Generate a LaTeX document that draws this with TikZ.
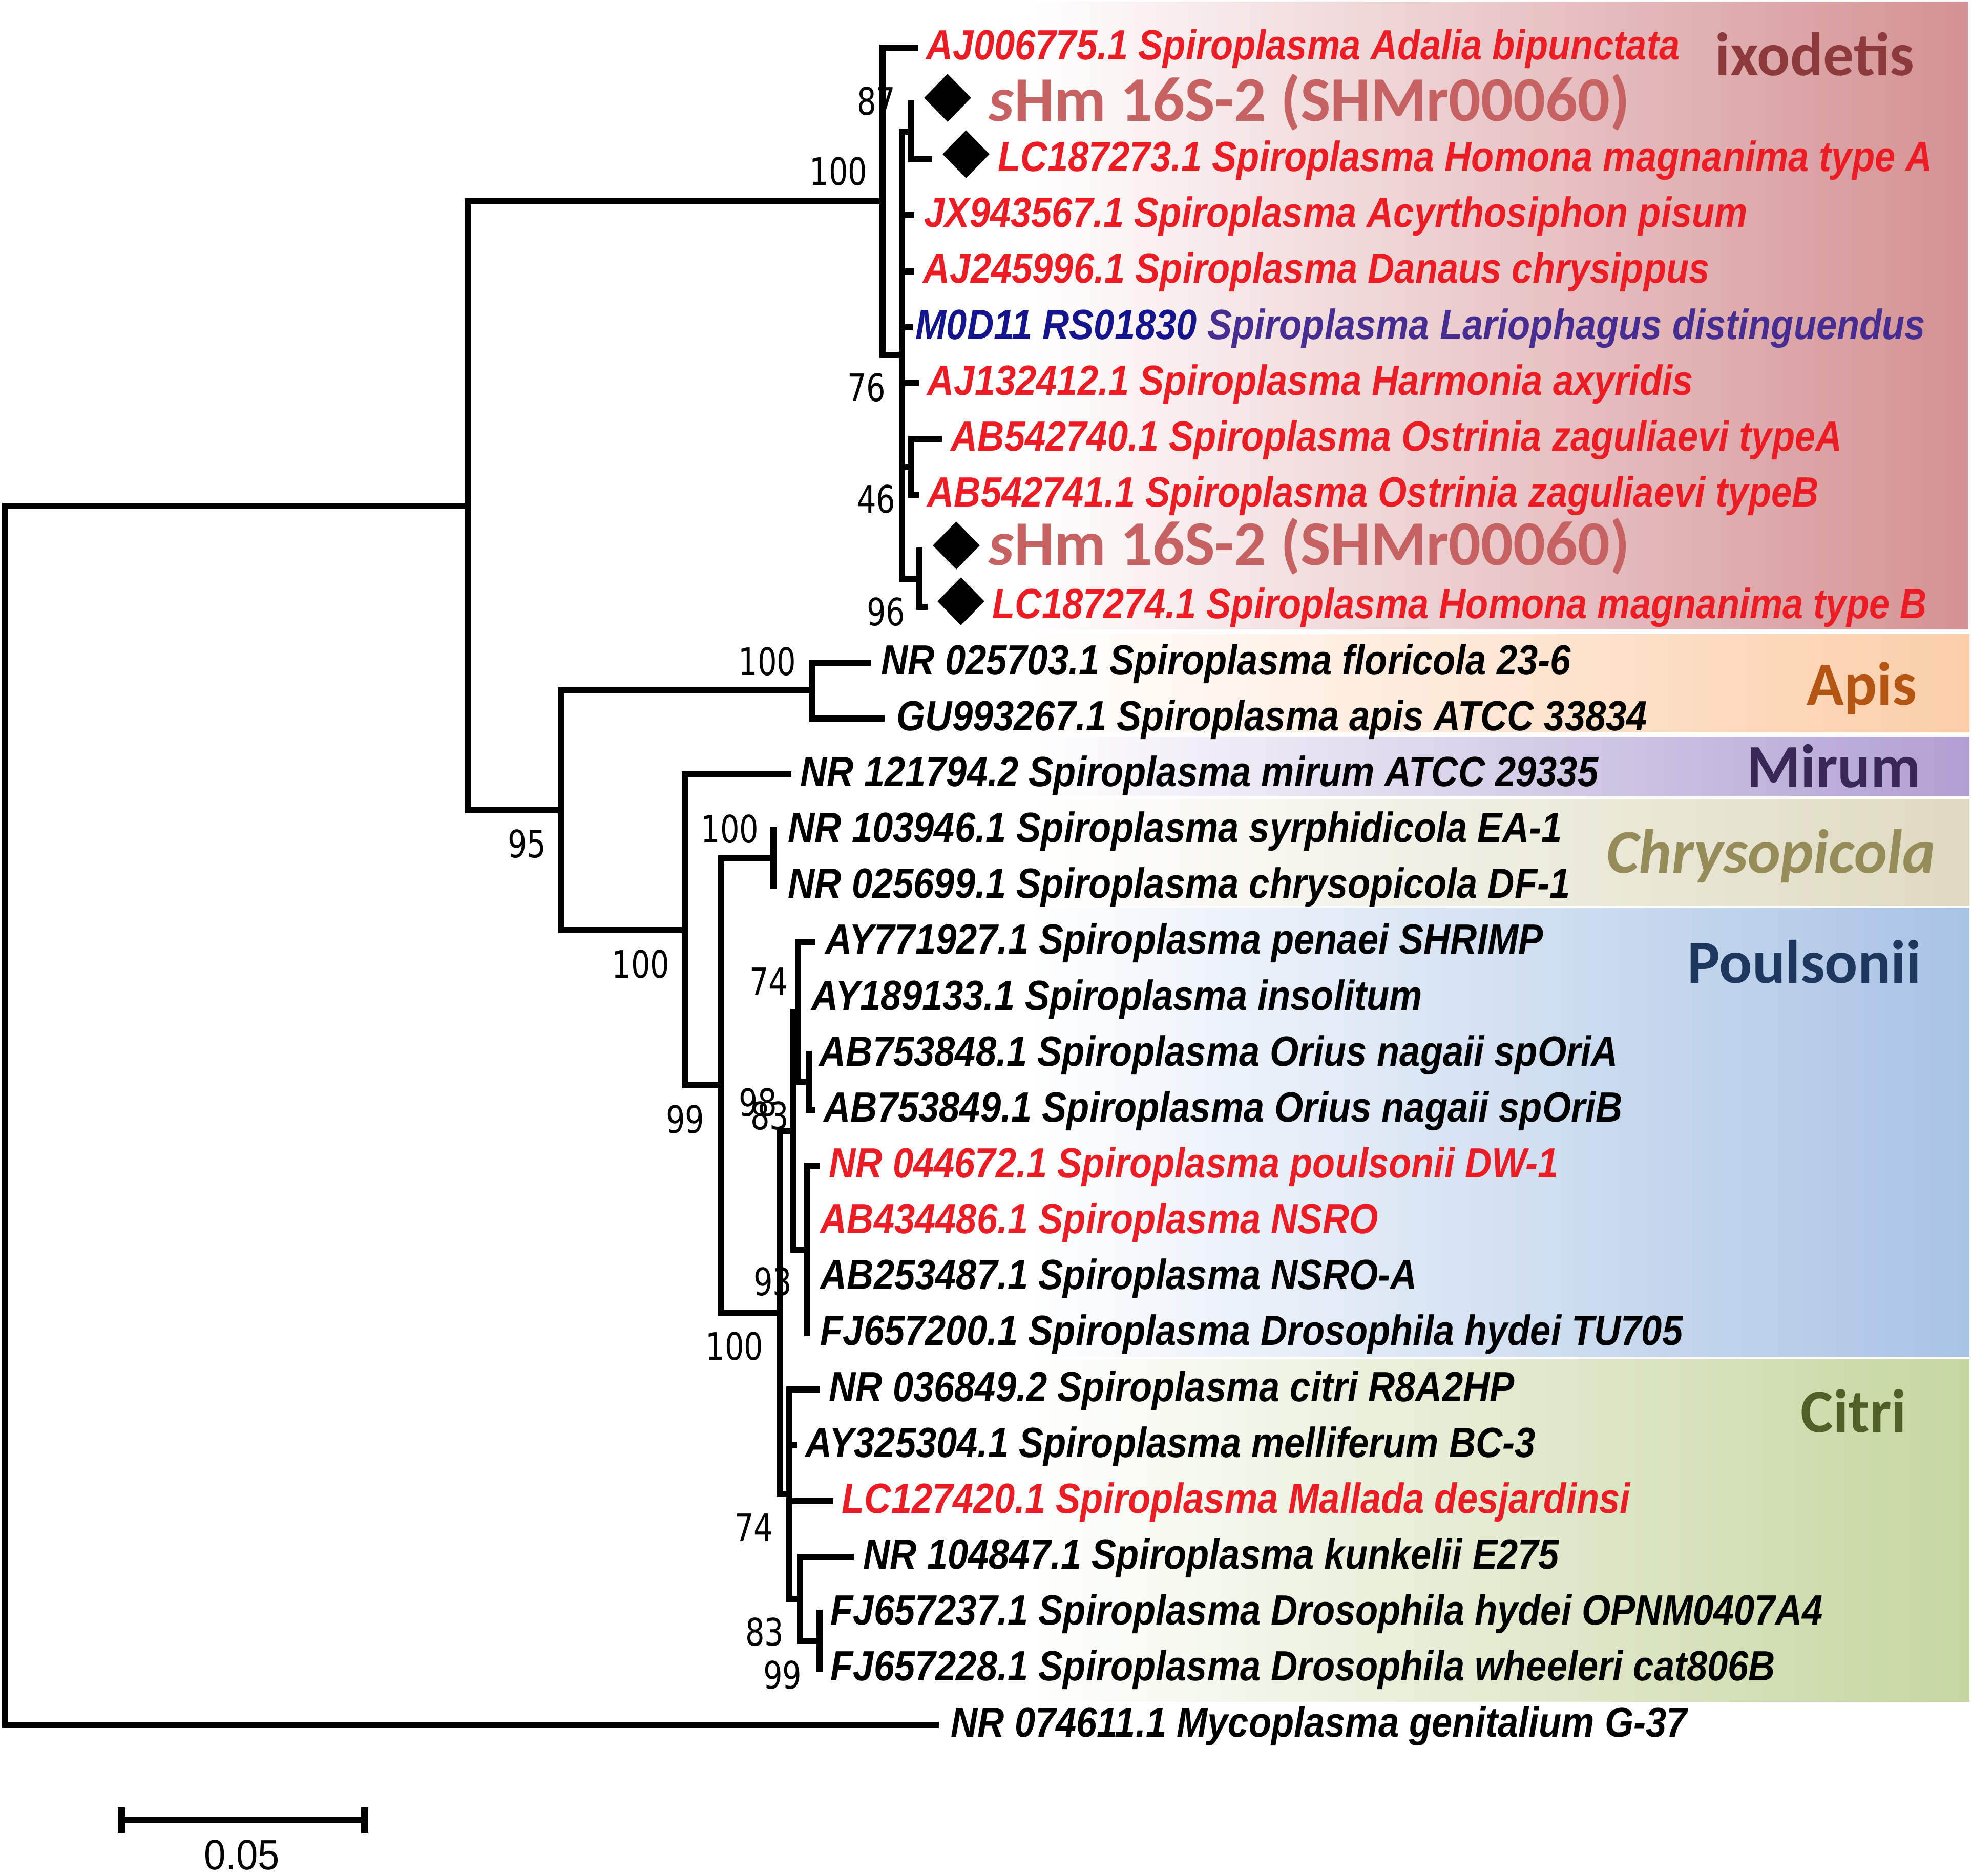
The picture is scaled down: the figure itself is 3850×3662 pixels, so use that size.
\documentclass[tikz,border=0pt]{standalone}
\usepackage{fontspec}
\usetikzlibrary{shapes.geometric}
\newfontfamily\labfont[FakeStretch=0.876]{Liberation Sans}
\newfontfamily\bsfont[FakeStretch=0.80]{DejaVu Sans}
\newfontfamily\cladefont{Carlito}
\newfontfamily\sbfont[FakeStretch=0.92]{Liberation Sans}
\definecolor{lred}{RGB}{236,28,36}
\definecolor{shmc}{RGB}{198,98,98}
\definecolor{mblue}{RGB}{20,20,140}
\definecolor{mpurp}{RGB}{70,45,145}
\definecolor{ixc}{RGB}{212,145,148}
\definecolor{apc}{RGB}{251,206,168}
\definecolor{mic}{RGB}{176,160,210}
\definecolor{chc}{RGB}{222,218,192}
\definecolor{poc}{RGB}{168,195,228}
\definecolor{cic}{RGB}{198,214,160}
\definecolor{ixt}{RGB}{140,58,60}
\definecolor{apt}{RGB}{180,85,20}
\definecolor{mit}{RGB}{55,40,85}
\definecolor{cht}{RGB}{150,140,90}
\definecolor{pot}{RGB}{30,55,95}
\definecolor{cit}{RGB}{80,95,40}
\begin{document}
\begin{tikzpicture}[x=0.01cm,y=-0.01cm,
  br/.style={line width=0.12cm,line cap=rect},
  leaf/.style={anchor=base west,inner sep=0,font=\labfont\bfseries\itshape\fontsize{23.47}{28}\selectfont},
  bs/.style={anchor=east,inner sep=0,font=\bsfont\fontsize{21}{25}\selectfont},
  clade/.style={anchor=base west,inner sep=0,font=\cladefont\bfseries\fontsize{34.1}{40}\selectfont},
  shm/.style={anchor=base west,inner sep=0,text=shmc,font=\cladefont\bfseries\fontsize{35.3}{41}\selectfont},
  diam/.style={shape=diamond,fill=black,inner sep=0,minimum width=0.92cm,minimum height=0.94cm}]
\useasboundingbox (0,0) rectangle (3850,3662);
% ---- clade bands
\shade[left color=white,right color=ixc] (2000,3) rectangle (3842,1228);
\shade[left color=white,right color=apc] (2000,1238) rectangle (3845,1429);
\shade[left color=white,right color=mic] (2000,1439) rectangle (3845,1553);
\shade[left color=white,right color=chc] (2000,1560) rectangle (3845,1768);
\shade[left color=white,right color=poc] (2000,1772) rectangle (3845,2648);
\shade[left color=white,right color=cic] (2000,2654) rectangle (3845,3322);
% ---- internal nodes
\coordinate (R) at (10,2177.5);
\coordinate (Nsp) at (913,987.5);
\coordinate (Nix) at (1723,393.2);
\coordinate (NB) at (1761,693.3);
\coordinate (N87) at (1779,256.7);
\coordinate (Nost) at (1779,911.6);
\coordinate (N96) at (1795,1129.9);
\coordinate (N95) at (1095,1581.9);
\coordinate (Nap) at (1586,1348.2);
\coordinate (Nmir) at (1337,1815.5);
\coordinate (N99) at (1408,2119.1);
\coordinate (Nchr) at (1510,1675.7);
\coordinate (NP) at (1522,2562.5);
\coordinate (N98) at (1549,2207.8);
\coordinate (N74) at (1558,1975.9);
\coordinate (N83) at (1579,2112.3);
\coordinate (N93) at (1576,2439.7);
\coordinate (Ncit) at (1541,2917.3);
\coordinate (Nc83) at (1562,3121.9);
\coordinate (Nc99) at (1600,3203.8);
% ---- tips
\coordinate (t1) at (1786,93);
\coordinate (t2) at (1779,202.15);
\coordinate (t3) at (1814,311.3);
\coordinate (t4) at (1779,420.45);
\coordinate (t5) at (1779,529.6);
\coordinate (t6) at (1776,638.75);
\coordinate (t7) at (1788,747.9);
\coordinate (t8) at (1833,857.05);
\coordinate (t9) at (1788,966.2);
\coordinate (t10) at (1795,1075.35);
\coordinate (t11) at (1805,1184.5);
\coordinate (t12) at (1694,1293.65);
\coordinate (t13) at (1721,1402.8);
\coordinate (t14) at (1539,1511.95);
\coordinate (t15) at (1510,1621.1);
\coordinate (t16) at (1510,1730.25);
\coordinate (t17) at (1586,1839.4);
\coordinate (t18) at (1558,1948.55);
\coordinate (t19) at (1579,2057.7);
\coordinate (t20) at (1586,2166.85);
\coordinate (t21) at (1594,2276);
\coordinate (t22) at (1576,2385.15);
\coordinate (t23) at (1576,2494.3);
\coordinate (t24) at (1576,2603.45);
\coordinate (t25) at (1594,2712.6);
\coordinate (t26) at (1550,2821.75);
\coordinate (t27) at (1621,2930.9);
\coordinate (t28) at (1661,3040.05);
\coordinate (t29) at (1600,3149.2);
\coordinate (t30) at (1600,3258.35);
\coordinate (t31) at (1827,3367.5);
% ---- branches
\draw[br] (R) |- (Nsp); \draw[br] (R) |- (t31);
\draw[br] (Nsp) |- (Nix); \draw[br] (Nsp) |- (N95);
\draw[br] (Nix) |- (t1); \draw[br] (Nix) |- (NB);
\draw[br] (NB) |- (N87); \draw[br] (NB) |- (t4); \draw[br] (NB) |- (t5);
\draw[br] (NB) |- (t6); \draw[br] (NB) |- (t7); \draw[br] (NB) |- (Nost);
\draw[br] (NB) |- (N96);
\draw[br] (N87) -- (t2); \draw[br] (N87) |- (t3);
\draw[br] (Nost) |- (t8); \draw[br] (Nost) |- (t9);
\draw[br] (N96) -- (t10); \draw[br] (N96) |- (t11);
\draw[br] (N95) |- (Nap); \draw[br] (N95) |- (Nmir);
\draw[br] (Nap) |- (t12); \draw[br] (Nap) |- (t13);
\draw[br] (Nmir) |- (t14); \draw[br] (Nmir) |- (N99);
\draw[br] (N99) |- (Nchr); \draw[br] (N99) |- (NP);
\draw[br] (Nchr) -- (t15); \draw[br] (Nchr) -- (t16);
\draw[br] (NP) |- (N98); \draw[br] (NP) |- (Ncit);
\draw[br] (N98) |- (N74); \draw[br] (N98) |- (N93);
\draw[br] (N74) |- (t17); \draw[br] (N74) -- (t18); \draw[br] (N74) |- (N83);
\draw[br] (N83) -- (t19); \draw[br] (N83) |- (t20);
\draw[br] (N93) |- (t21); \draw[br] (N93) -- (t24);
\draw[br] (Ncit) |- (t25); \draw[br] (Ncit) |- (t26); \draw[br] (Ncit) |- (t27);
\draw[br] (Ncit) |- (Nc83);
\draw[br] (Nc83) |- (t28); \draw[br] (Nc83) |- (Nc99);
\draw[br] (Nc99) -- (t29); \draw[br] (Nc99) -- (t30);
% ---- diamonds
\node[diam] (d1) at (1850,191) {};
\node[diam] (d2) at (1886,301) {};
\node[diam] (d3) at (1867,1065) {};
\node[diam] (d4) at (1876,1174) {};
% ---- leaf labels
\node[leaf,text=lred] (l1) at (1808,116) {AJ006775.1 Spiroplasma Adalia bipunctata};
\node[shm] (l2) at (1930,236) {\textit{s}Hm 16S-2 (SHMr00060)};
\node[leaf,text=lred] (l3) at (1948,334) {LC187273.1 Spiroplasma Homona magnanima type A};
\node[leaf,text=lred] (l4) at (1804,443) {JX943567.1 Spiroplasma Acyrthosiphon pisum};
\node[leaf,text=lred] (l5) at (1802,552) {AJ245996.1 Spiroplasma Danaus chrysippus};
\node[leaf] (l6) at (1787,662) {\textcolor{mblue}{M0D11 RS01830} \textcolor{mpurp}{Spiroplasma Lariophagus distinguendus}};
\node[leaf,text=lred] (l7) at (1810,771) {AJ132412.1 Spiroplasma Harmonia axyridis};
\node[leaf,text=lred] (l8) at (1856,880) {AB542740.1 Spiroplasma Ostrinia zaguliaevi typeA};
\node[leaf,text=lred] (l9) at (1810,989) {AB542741.1 Spiroplasma Ostrinia zaguliaevi typeB};
\node[shm] (l10) at (1930,1103) {\textit{s}Hm 16S-2 (SHMr00060)};
\node[leaf,text=lred] (l11) at (1937,1207) {LC187274.1 Spiroplasma Homona magnanima type B};
\node[leaf] (l12) at (1720,1317) {NR 025703.1 Spiroplasma floricola 23-6};
\node[leaf] (l13) at (1750,1426) {GU993267.1 Spiroplasma apis ATCC 33834};
\node[leaf] (l14) at (1562,1535) {NR 121794.2 Spiroplasma mirum ATCC 29335};
\node[leaf] (l15) at (1538,1644) {NR 103946.1 Spiroplasma syrphidicola EA-1};
\node[leaf] (l16) at (1538,1753) {NR 025699.1 Spiroplasma chrysopicola DF-1};
\node[leaf] (l17) at (1611,1862) {AY771927.1 Spiroplasma penaei SHRIMP};
\node[leaf] (l18) at (1584,1972) {AY189133.1 Spiroplasma insolitum};
\node[leaf] (l19) at (1599,2081) {AB753848.1 Spiroplasma Orius nagaii spOriA};
\node[leaf] (l20) at (1608,2190) {AB753849.1 Spiroplasma Orius nagaii spOriB};
\node[leaf,text=lred] (l21) at (1618,2299) {NR 044672.1 Spiroplasma poulsonii DW-1};
\node[leaf,text=lred] (l22) at (1601,2408) {AB434486.1 Spiroplasma NSRO};
\node[leaf] (l23) at (1601,2517) {AB253487.1 Spiroplasma NSRO-A};
\node[leaf] (l24) at (1601,2626) {FJ657200.1 Spiroplasma Drosophila hydei TU705};
\node[leaf] (l25) at (1618,2736) {NR 036849.2 Spiroplasma citri R8A2HP};
\node[leaf] (l26) at (1572,2845) {AY325304.1 Spiroplasma melliferum BC-3};
\node[leaf,text=lred] (l27) at (1643,2954) {LC127420.1 Spiroplasma Mallada desjardinsi};
\node[leaf] (l28) at (1685,3063) {NR 104847.1 Spiroplasma kunkelii E275};
\node[leaf] (l29) at (1621,3172) {FJ657237.1 Spiroplasma Drosophila hydei OPNM0407A4};
\node[leaf] (l30) at (1621,3281) {FJ657228.1 Spiroplasma Drosophila wheeleri cat806B};
\node[leaf] (l31) at (1856,3391) {NR 074611.1 Mycoplasma genitalium G-37};
% ---- bootstrap values
\node[bs] (b1) at (1694,335) {100};
\node[bs] (b2) at (1749,198) {87};
\node[bs] (b3) at (1730,757) {76};
\node[bs] (b4) at (1749,975) {46};
\node[bs] (b5) at (1768,1195) {96};
\node[bs] (b6) at (1555,1292) {100};
\node[bs] (b7) at (1067,1648) {95};
\node[bs] (b8) at (1308,1883) {100};
\node[bs] (b9) at (1482,1619) {100};
\node[bs] (b10) at (1376,2186) {99};
\node[bs] (b11) at (1539,1917) {74};
\node[bs] (b12) at (1518,2153) {98};
\node[bs] (b13) at (1541,2179) {83};
\node[bs] (b14) at (1547,2503) {93};
\node[bs] (b15) at (1491,2629) {100};
\node[bs] (b16) at (1510,2983) {74};
\node[bs] (b17) at (1531,3187) {83};
\node[bs] (b18) at (1566,3271) {99};
% ---- clade names
\node[clade,text=ixt] (c1) at (3348,147) {ixodetis};
\node[clade,text=apt] (c2) at (3527,1376) {Apis};
\node[clade,text=mit] (c3) at (3410,1537) {Mirum};
\node[clade,text=cht,font=\cladefont\bfseries\itshape\fontsize{34.6}{40}\selectfont] (c4) at (3136,1704) {Chrysopicola};
\node[clade,text=pot] (c5) at (3294,1919) {Poulsonii};
\node[clade,text=cit] (c6) at (3515,2796) {Citri};
% ---- scale bar
\coordinate (sbL) at (237,3553);
\coordinate (sbR) at (712,3553);
\coordinate (sbLt) at (237,3529);
\coordinate (sbLb) at (237,3579);
\coordinate (sbRt) at (712,3529);
\coordinate (sbRb) at (712,3579);
\draw[line width=0.12cm] (sbL) -- (sbR);
\draw[line width=0.14cm] (sbLt) -- (sbLb);
\draw[line width=0.14cm] (sbRt) -- (sbRb);
\node[inner sep=0,font=\sbfont\fontsize{23.5}{28}\selectfont] (sbt) at (472,3622) {0.05};
\end{tikzpicture}
\end{document}
